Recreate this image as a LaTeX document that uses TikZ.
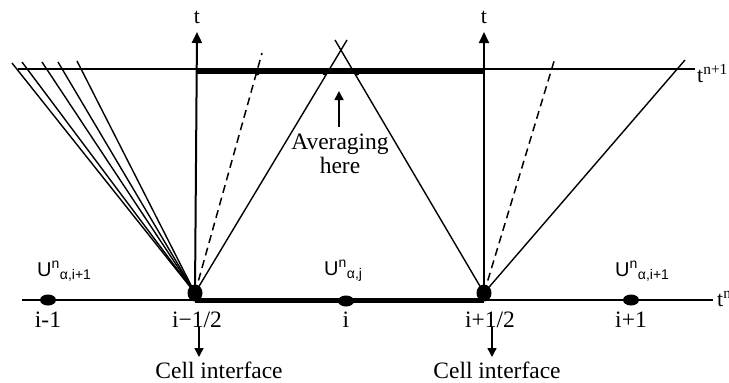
\documentclass[tikz,border=0pt]{standalone}
\usepackage{fontspec}
\setmainfont{Liberation Serif}
\newfontfamily\labelsans{Liberation Sans}
\usetikzlibrary{arrows.meta, positioning, shapes.geometric, calc}

\begin{document}
\begin{tikzpicture}[x=1pt, y=-1pt,
  thinline/.style={line width=1.4pt},
  axisline/.style={line width=2pt, -{Triangle[length=11pt, width=10pt]}},
  thickline/.style={line width=5pt},
  dashline/.style={line width=1.5pt, dash pattern=on 8pt off 5pt},
  pointer/.style={line width=1.6pt, -{Triangle[length=9pt, width=9pt]}},
  bigdot/.style={ellipse, fill, minimum width=15pt, minimum height=17pt, inner sep=0pt},
  celldot/.style={ellipse, fill, minimum width=16pt, minimum height=11pt, inner sep=0pt},
  hitdot/.style={circle, fill, minimum size=5pt, inner sep=0pt},
  marklabel/.style={font=\fontsize{23.5}{25}\selectfont, anchor=base, inner sep=0pt},
  tlabel/.style={font=\fontsize{22}{24}\selectfont, anchor=base, inner sep=0pt},
  ulabel/.style={font=\labelsans\fontsize{20}{22}\selectfont, anchor=base west, inner sep=0pt},
  note/.style={font=\fontsize{23.5}{23.5}\selectfont, align=center, inner sep=0pt}]
\useasboundingbox (0,0) rectangle (729,383);

% time levels t^n and t^{n+1}
\coordinate (botL) at (22,300);
\coordinate (botR) at (713,300);
\coordinate (topL) at (18,69);
\coordinate (topR) at (695,69);
\draw[thinline] (botL) -- (botR);
\draw[thinline] (topL) -- (topR);
\node[tlabel, anchor=base west] (tn) at (717,306) {t\textsuperscript{n}};
\node[tlabel, anchor=base west] (tnp) at (697,82) {t\textsuperscript{n+1}};

% cell points
\node[celldot] (im1) at (48,300) {};
\node[celldot] (ic) at (346,301) {};
\node[celldot] (ip1) at (631,300) {};

% cell interfaces
\node[bigdot] (lface) at (195,293) {};
\node[bigdot] (rface) at (484,293) {};

% cell and averaging segment
\coordinate (avgL) at (197,71);
\coordinate (avgR) at (484,71);
\draw[thickline] (lface.center |- botL) -- (rface.center |- botL);
\draw[thickline] (avgL) -- (avgR);

% time axes
\coordinate (axL) at (197,32);
\coordinate (axR) at (484,32);
\draw[axisline] (lface.center) -- (axL);
\draw[axisline] (rface.center) -- (axR);
\node[tlabel] (tL) at (197,23) {t};
\node[tlabel] (tR) at (484,23) {t};

% waves from the left interface
\foreach \x/\y in {12/63, 22/62, 42/62, 58/62, 77/61}
  \draw[thinline] (lface.center) -- (\x,\y);
\coordinate (dashL) at (262,53);
\coordinate (crossL) at (347,40);
\draw[dashline] (lface.center) -- (dashL);
\draw[thinline] (lface.center) -- (crossL);

% waves from the right interface
\coordinate (dashR) at (555,58);
\coordinate (fanR) at (685,60);
\coordinate (crossR) at (335,40);
\draw[dashline] (rface.center) -- (dashR);
\draw[thinline] (rface.center) -- (fanR);
\draw[thinline] (rface.center) -- (crossR);

% hits on the averaging segment
\node[hitdot] (h1) at (257,73) {};
\node[hitdot] (h2) at (325,73) {};
\node[hitdot] (h3) at (357,73) {};

% averaging note
\node[note, anchor=north] (avg) at (340,134) {Averaging\\here};
\coordinate (avgTip) at (339,91);
\draw[pointer] ($(avg.north)+(-1,-7)$) -- (avgTip);

% cell values
\node[ulabel] (uL) at (37,276) {U\textsuperscript{n}\textsubscript{α,i+1}};
\node[ulabel] (uC) at (324,275) {U\textsuperscript{n}\textsubscript{α,j}};
\node[ulabel] (uR) at (615,276) {U\textsuperscript{n}\textsubscript{α,i+1}};

% positions
\node[marklabel] (pim1) at (48,327) {i-1};
\node[marklabel] (plh) at (197,327) {i−1/2};
\node[marklabel] (pic) at (346,327) {i};
\node[marklabel] (prh) at (490,327) {i+1/2};
\node[marklabel] (pip1) at (631,327) {i+1};

% interface notes
\node[marklabel] (cellL) at (219,378) {Cell interface};
\node[marklabel] (cellR) at (497,378) {Cell interface};
\coordinate (cellLtip) at (199,357);
\coordinate (cellRtip) at (492,357);
\draw[pointer] (plh.south -| cellLtip) -- (cellLtip);
\draw[pointer] (prh.south -| cellRtip) -- (cellRtip);
\end{tikzpicture}
\end{document}
